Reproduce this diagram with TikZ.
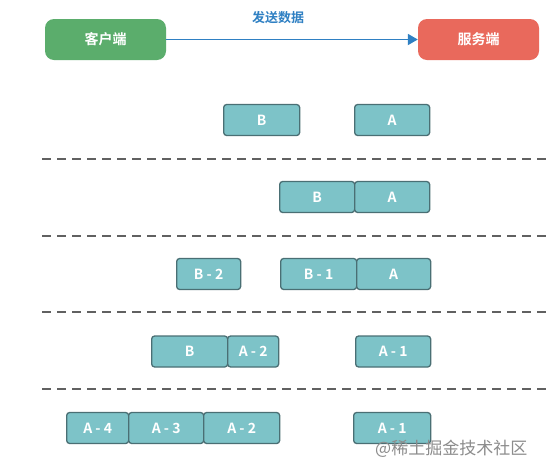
\documentclass[tikz,border=0pt]{standalone}
\usepackage{fontspec}
\setmainfont{Noto Sans CJK SC}[BoldFont={Noto Sans CJK SC Bold}]
\usetikzlibrary{arrows.meta}
\definecolor{pk}{HTML}{7DC3C8}
\definecolor{pkb}{HTML}{4A6F74}
\definecolor{cli}{HTML}{5BAD6C}
\definecolor{srv}{HTML}{E9695C}
\definecolor{arr}{HTML}{2F80C3}
\begin{document}
\begin{tikzpicture}[x=1pt,y=-1pt,
  pkt/.style={draw=pkb, fill=pk, line width=1.3pt, rounded corners=3pt, minimum height=31pt, inner sep=0pt, anchor=west, text=white, font=\fontsize{14}{14}\selectfont\bfseries},
  endpt/.style={rounded corners=9pt, minimum width=121pt, minimum height=41pt, inner sep=0pt, text=white, font=\fontsize{14}{14}\selectfont\bfseries},
  sep/.style={dashed, dash pattern=on 9pt off 6pt, line width=1.4pt, draw=black!62}]
\useasboundingbox (0,0) rectangle (554,472);
\fill[white] (0,0) rectangle (554,472);
% header
\node[endpt, fill=cli] (client) at (105.5,39.5) {客户端};
\node[endpt, fill=srv] (server) at (478.5,39.5) {服务端};
\draw[arr, line width=1.8pt, -{Triangle[length=10pt,width=11pt]}] (client.east) -- (server.west);
\node[text=arr, font=\fontsize{13}{13}\selectfont\bfseries] (lbl) at (278,18) {发送数据};
% separators
\coordinate (s1a) at (42,159); \coordinate (s1b) at (548,159);
\coordinate (s2a) at (42,236); \coordinate (s2b) at (548,236);
\coordinate (s3a) at (42,312); \coordinate (s3b) at (548,312);
\coordinate (s4a) at (42,389); \coordinate (s4b) at (548,389);
\draw[sep] (s1a) -- (s1b);
\draw[sep] (s2a) -- (s2b);
\draw[sep] (s3a) -- (s3b);
\draw[sep] (s4a) -- (s4b);
% row 1
\node[pkt, minimum width=76pt] (r1b) at (223,120) {B};
\node[pkt, minimum width=75pt] (r1a) at (354,120) {A};
% row 2
\node[pkt, minimum width=75pt] (r2b) at (279,197) {B};
\node[pkt, minimum width=75pt] (r2a) at (354,197) {A};
% row 3
\node[pkt, minimum width=64pt] (r3b2) at (176,274) {B - 2};
\node[pkt, minimum width=76pt] (r3b1) at (280,274) {B - 1};
\node[pkt, minimum width=74pt] (r3a) at (356,274) {A};
% row 4
\node[pkt, minimum width=76pt] (r4b) at (151,351.5) {B};
\node[pkt, minimum width=51pt] (r4a2) at (227,351.5) {A - 2};
\node[pkt, minimum width=75pt] (r4a1) at (355,351.5) {A - 1};
% row 5
\node[pkt, minimum width=62pt] (r5a4) at (66,428) {A - 4};
\node[pkt, minimum width=75pt] (r5a3) at (128,428) {A - 3};
\node[pkt, minimum width=76pt] (r5a2) at (203,428) {A - 2};
\node[pkt, minimum width=77pt] (r5a1) at (353,428) {A - 1};
% watermark
\node[text=black!45, font=\fontsize{17}{17}\selectfont, anchor=west, inner sep=0pt] (wm) at (375,449) {@稀土掘金技术社区};
\end{tikzpicture}
\end{document}
